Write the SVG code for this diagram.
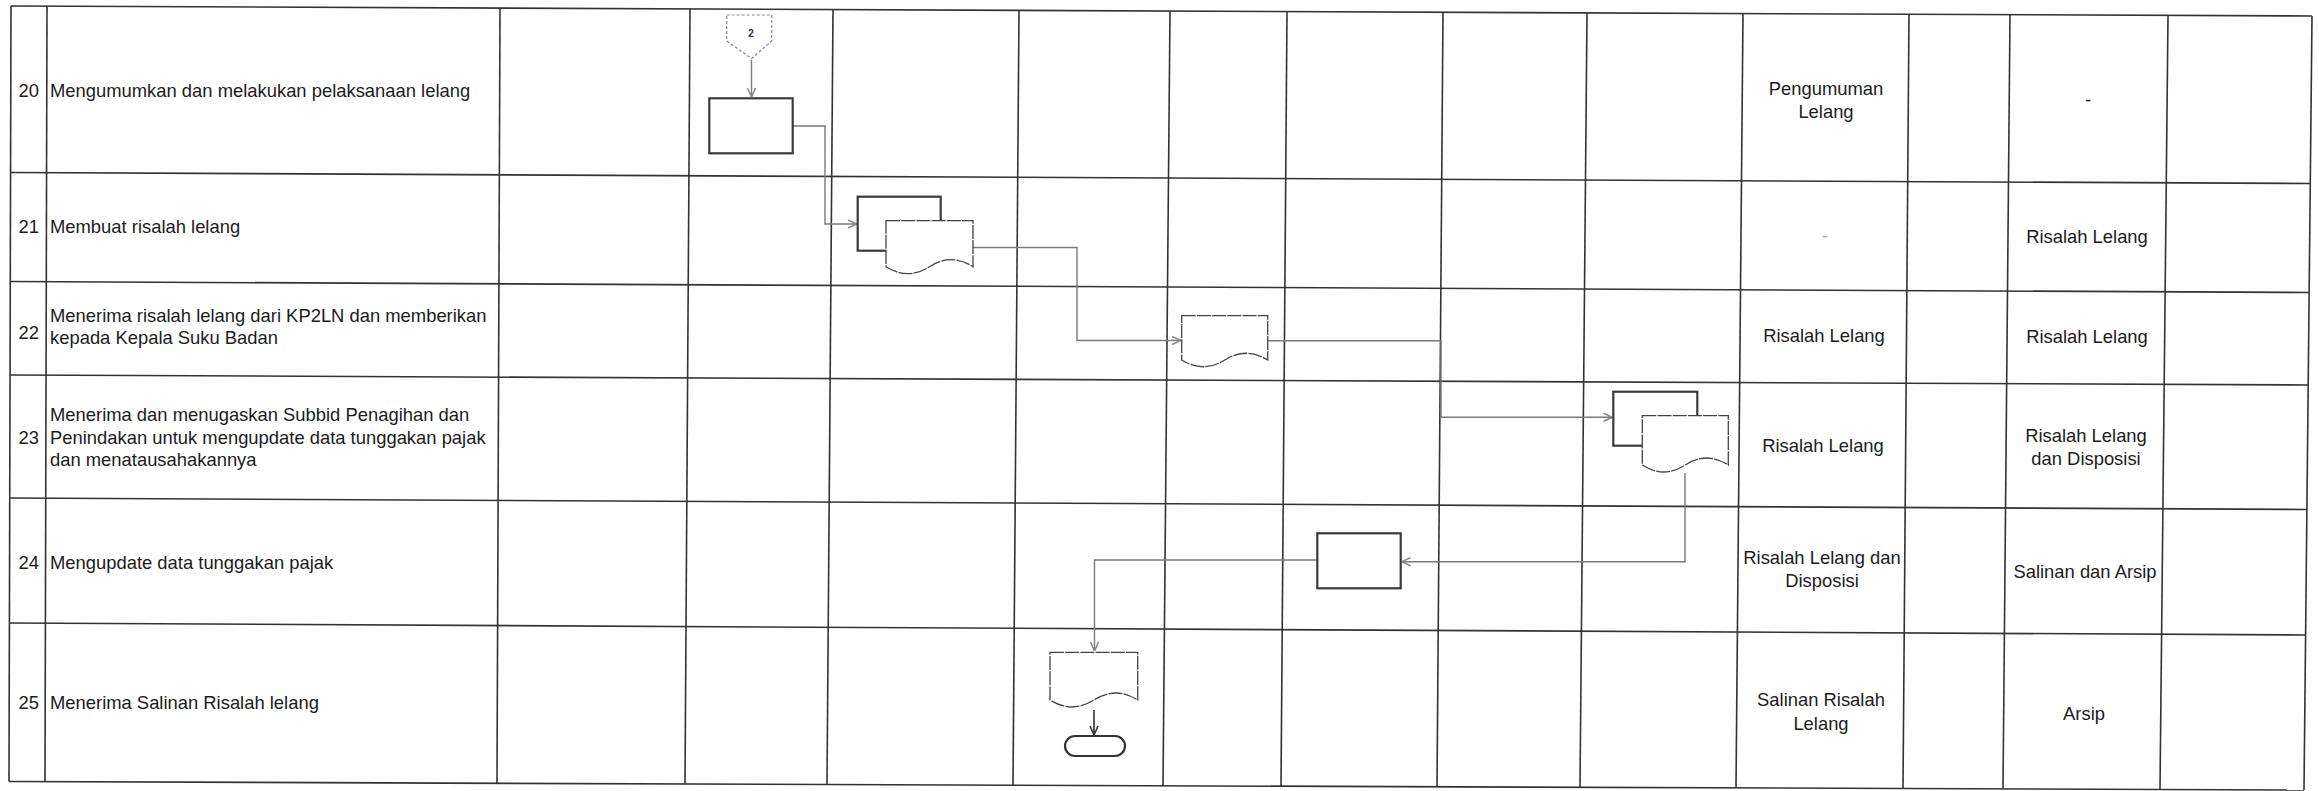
<svg xmlns="http://www.w3.org/2000/svg" width="2319" height="791" viewBox="0 0 2319 791">
<style>
  .grid line { stroke:#333; stroke-width:1.6; }
  .t { font-family:"Liberation Sans", Arial, sans-serif; font-size:18.4px; fill:#1c1c1c; }
  .c { text-anchor:middle; }
  .n { text-anchor:end; }
  .proc { fill:#fff; stroke:#3a3a3a; stroke-width:2.2; }
  .doc { fill:#fff; stroke:#444; stroke-width:1.3; stroke-dasharray:14 1.2; }
  .off { fill:#fff; stroke:#888; stroke-width:1.2; stroke-dasharray:3 2; }
  .term { fill:#fff; stroke:#333; stroke-width:2.2; }
  .conn { fill:none; stroke:#7a7a7a; stroke-width:1.4; }
  .connd { fill:none; stroke:#333; stroke-width:1.6; }
</style>
<defs>
  <marker id="arr" viewBox="0 0 10 10" refX="10" refY="5" markerWidth="10" markerHeight="10" markerUnits="userSpaceOnUse" orient="auto">
    <path d="M1,1 L10,5 L1,9" fill="none" stroke="#888" stroke-width="1.5"/>
  </marker>
  <marker id="arrd" viewBox="0 0 10 10" refX="10" refY="5" markerWidth="10" markerHeight="10" markerUnits="userSpaceOnUse" orient="auto">
    <path d="M1,1 L10,5 L1,9" fill="none" stroke="#333" stroke-width="1.6"/>
  </marker>
</defs>
<rect x="0" y="0" width="2319" height="791" fill="#fff"/>

<g id="grid" class="grid">
  <line x1="11" y1="6" x2="2312" y2="16"/>
  <line x1="10.5" y1="172.5" x2="2310.5" y2="183.5"/>
  <line x1="10" y1="281.5" x2="2309" y2="292.5"/>
  <line x1="10" y1="375" x2="2308" y2="385"/>
  <line x1="10" y1="498" x2="2307" y2="509.5"/>
  <line x1="9.5" y1="623" x2="2306" y2="635"/>
  <line x1="9" y1="781.5" x2="2304" y2="790"/>
  <line x1="11" y1="6" x2="9" y2="781.5"/>
  <line x1="47" y1="6.2" x2="45" y2="781.7"/>
  <line x1="500" y1="8.2" x2="497" y2="783.3"/>
  <line x1="690" y1="9" x2="685" y2="784"/>
  <line x1="833" y1="9.6" x2="827" y2="784.5"/>
  <line x1="1019" y1="10.4" x2="1013" y2="785.2"/>
  <line x1="1170" y1="11.1" x2="1163" y2="785.8"/>
  <line x1="1287" y1="11.6" x2="1281" y2="786.3"/>
  <line x1="1443" y1="12.3" x2="1437" y2="786.9"/>
  <line x1="1587" y1="12.9" x2="1580" y2="787.4"/>
  <line x1="1743" y1="13.6" x2="1736" y2="788"/>
  <line x1="1909" y1="14.3" x2="1903" y2="788.5"/>
  <line x1="2010" y1="14.7" x2="2003" y2="789"/>
  <line x1="2168" y1="15.4" x2="2160" y2="789.5"/>
  <line x1="2312" y1="16" x2="2304" y2="790"/>
</g>

<g id="row-texts">
  <text class="t n" x="39" y="97">20</text>
  <text class="t" x="50" y="97">Mengumumkan dan melakukan pelaksanaan lelang</text>
  <text class="t n" x="39" y="233">21</text>
  <text class="t" x="50" y="233">Membuat risalah lelang</text>
  <text class="t n" x="39" y="339">22</text>
  <text class="t" x="50" y="322">Menerima risalah lelang dari KP2LN dan memberikan</text>
  <text class="t" x="50" y="344">kepada Kepala Suku Badan</text>
  <text class="t n" x="39" y="444">23</text>
  <text class="t" x="50" y="421">Menerima dan menugaskan Subbid Penagihan dan</text>
  <text class="t" x="50" y="443.5">Penindakan untuk mengupdate data tunggakan pajak</text>
  <text class="t" x="50" y="466">dan menatausahakannya</text>
  <text class="t n" x="39" y="568.5">24</text>
  <text class="t" x="50" y="568.5">Mengupdate data tunggakan pajak</text>
  <text class="t n" x="39" y="708.5">25</text>
  <text class="t" x="50" y="708.5">Menerima Salinan Risalah lelang</text>
</g>

<g id="col-texts">
  <text class="t c" x="1826" y="95">Pengumuman</text>
  <text class="t c" x="1826" y="118">Lelang</text>
  <text class="t c" x="2088" y="106">-</text>
  <text class="t c" x="1825" y="242" style="fill:#aaa">-</text>
  <text class="t c" x="2087" y="243">Risalah Lelang</text>
  <text class="t c" x="1824" y="342">Risalah Lelang</text>
  <text class="t c" x="2087" y="343">Risalah Lelang</text>
  <text class="t c" x="1823" y="452">Risalah Lelang</text>
  <text class="t c" x="2086" y="442">Risalah Lelang</text>
  <text class="t c" x="2086" y="464.5">dan Disposisi</text>
  <text class="t c" x="1822" y="564">Risalah Lelang dan</text>
  <text class="t c" x="1822" y="587">Disposisi</text>
  <text class="t c" x="2085" y="578">Salinan dan Arsip</text>
  <text class="t c" x="1821" y="706">Salinan Risalah</text>
  <text class="t c" x="1821" y="729.5">Lelang</text>
  <text class="t c" x="2084" y="719.5">Arsip</text>
</g>

<g id="connectors">
  <path class="conn" d="M751.5,60 V97" marker-end="url(#arr)"/>
  <path class="conn" d="M793,126 H825 V224 H857" marker-end="url(#arr)"/>
  <path class="conn" d="M973,247.5 H1077 V340.5 H1181" marker-end="url(#arr)"/>
  <path class="conn" d="M1268,340.7 H1441 V417.3 H1612.5" marker-end="url(#arr)"/>
  <path class="conn" d="M1685,473 V561.7 H1401.5" marker-end="url(#arr)"/>
  <path class="conn" d="M1317,560 H1094.5 V651" marker-end="url(#arr)"/>
  <path class="connd" d="M1094,710 V735" marker-end="url(#arrd)"/>
</g>

<g id="offpage-2">
  <path class="off" d="M726.7,15 H771.7 V41 L751.6,58.5 L726.7,41 Z"/>
  <text x="751" y="37" text-anchor="middle" style="font-family:'Liberation Sans', Arial, sans-serif; font-size:10px; font-weight:bold; fill:#333">2</text>
</g>

<g id="process-20">
  <rect class="proc" x="709.3" y="98.3" width="83.4" height="55"/>
</g>

<g id="multidoc-21">
  <rect class="proc" x="857.7" y="196.7" width="83" height="54"/>
  <path class="doc" d="M886,220.7 H973 V266.7 Q951.3,252.7 929.5,266.7 Q907.8,280.7 886,266.7 Z"/>
</g>

<g id="doc-22">
  <path class="doc" d="M1181.7,315.7 H1267.7 V360 Q1246.2,346.5 1224.7,360 Q1203.2,373.5 1181.7,360 Z"/>
</g>

<g id="multidoc-23">
  <rect class="proc" x="1613.3" y="391.7" width="84" height="54"/>
  <path class="doc" d="M1642.3,415.7 H1728.3 V465 Q1706.8,451 1685.3,465 Q1663.8,479 1642.3,465 Z"/>
</g>

<g id="process-24">
  <rect class="proc" x="1317.3" y="533.3" width="83.4" height="55"/>
</g>

<g id="doc-25">
  <path class="doc" d="M1050,652.3 H1137.7 V700 Q1115.8,686 1093.9,700 Q1072,714 1050,700 Z"/>
</g>

<g id="terminator-25">
  <rect class="term" x="1065" y="736" width="60" height="20" rx="10" ry="10"/>
</g>
</svg>
